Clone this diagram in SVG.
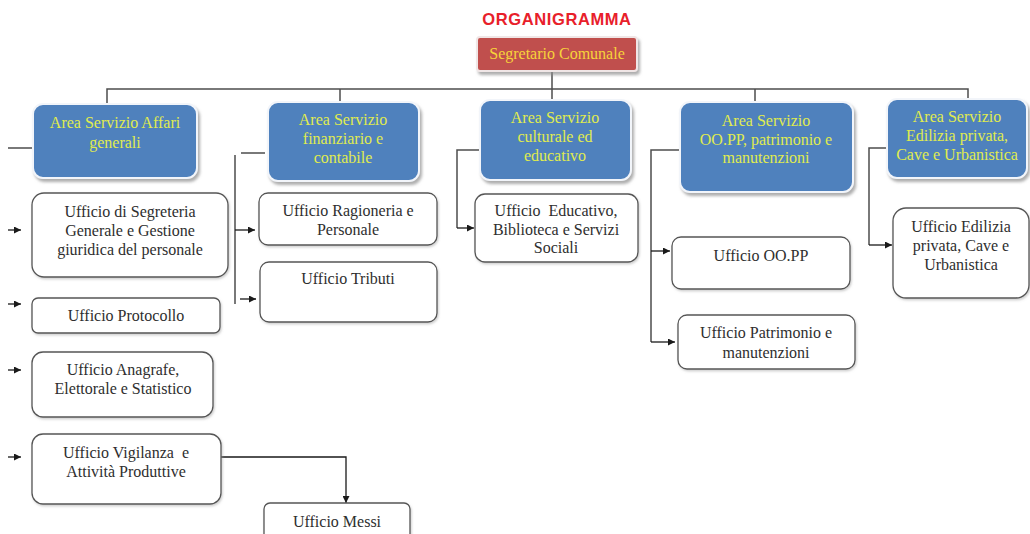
<svg xmlns="http://www.w3.org/2000/svg" width="1030" height="534" viewBox="0 0 1030 534">
<defs>
<marker id="arr" viewBox="0 0 10 10" refX="10" refY="5" markerWidth="7" markerHeight="7" markerUnits="userSpaceOnUse" orient="auto">
<path d="M0,0 L10,5 L0,10 z" fill="#1a1a1a"/>
</marker>
<filter id="sh" x="-10%" y="-10%" width="130%" height="140%">
<feDropShadow dx="2" dy="3" stdDeviation="1.5" flood-color="#8a8a8a" flood-opacity="0.7"/>
</filter>
<filter id="sh2" x="-10%" y="-10%" width="130%" height="140%">
<feDropShadow dx="1" dy="1.5" stdDeviation="1" flood-color="#9a9a9a" flood-opacity="0.5"/>
</filter>
</defs>
<style>
.area{fill:#4F81BD;stroke:#f2f5fa;stroke-width:2;filter:url(#sh)}
.areat{font-family:"Liberation Serif","Times New Roman",serif;font-size:16px;fill:#E0EC4E;text-anchor:middle}
.off{fill:#ffffff;stroke:#555;stroke-width:1.3;filter:url(#sh2)}
.offt{font-family:"Liberation Serif","Times New Roman",serif;font-size:16px;fill:#2e2e2e;text-anchor:middle}
.ln{fill:none;stroke:#4d4d4d;stroke-width:1.5}
.la{fill:none;stroke:#1a1a1a;stroke-width:1.3;marker-end:url(#arr)}
</style>
<rect width="1030" height="534" fill="#ffffff"/>
<text x="557" y="25" font-family="Liberation Sans,Arial,sans-serif" font-size="16.5" font-weight="bold" fill="#E8202A" text-anchor="middle" letter-spacing="0.6">ORGANIGRAMMA</text>

<g id="connectors">
<path class="ln" d="M552,71 V100"/>
<path class="ln" d="M107,104 V89 H968 V99"/>
<path class="ln" d="M340,89 V102"/>
<path class="ln" d="M755,89 V102"/>
<path class="ln" d="M8,148 H33"/>
<path class="la" d="M8,230 H21"/>
<path class="la" d="M8,304 H21"/>
<path class="la" d="M8,370 H21"/>
<path class="la" d="M8,457 H21"/>
<path class="ln" d="M241,153 H265"/>
<path class="ln" d="M235,155 V304"/>
<path class="la" d="M235,230 H255"/>
<path class="la" d="M240,299 H256"/>
<path class="ln" d="M480,150 H457 V228"/>
<path class="la" d="M457,228 H474"/>
<path class="ln" d="M680,150 H651 V342"/>
<path class="la" d="M651,251 H670"/>
<path class="la" d="M651,342 H675"/>
<path class="ln" d="M887,148 H869 V245"/>
<path class="la" d="M869,245 H892"/>
<path class="la" d="M221,457 H346 V503"/>
</g>

<g id="segretario">
<rect x="477" y="37" width="160" height="34" rx="3" fill="#C0504D" stroke="#f0e6e6" stroke-width="2" filter="url(#sh)"/>
<text x="557" y="59" font-family="Liberation Serif,Times New Roman,serif" font-size="16" fill="#F7D33A" text-anchor="middle">Segretario Comunale</text>
</g>

<g id="area1">
<rect class="area" x="33" y="104" width="164" height="74" rx="10"/>
<text class="areat" x="115" y="128">Area Servizio Affari</text>
<text class="areat" x="115" y="148">generali</text>
</g>
<g id="area2">
<rect class="area" x="268" y="102" width="151" height="79" rx="10"/>
<text class="areat" x="343" y="125">Area Servizio</text>
<text class="areat" x="343" y="144">finanziario e</text>
<text class="areat" x="343" y="163">contabile</text>
</g>
<g id="area3">
<rect class="area" x="480" y="100" width="151" height="80" rx="10"/>
<text class="areat" x="555" y="123">Area Servizio</text>
<text class="areat" x="555" y="142">culturale ed</text>
<text class="areat" x="555" y="161">educativo</text>
</g>
<g id="area4">
<rect class="area" x="680" y="102" width="173" height="90" rx="10"/>
<text class="areat" x="766" y="126">Area Servizio</text>
<text class="areat" x="766" y="145">OO.PP, patrimonio e</text>
<text class="areat" x="766" y="163">manutenzioni</text>
</g>
<g id="area5">
<rect class="area" x="887" y="99" width="140" height="79" rx="10"/>
<text class="areat" x="957" y="122">Area Servizio</text>
<text class="areat" x="957" y="141">Edilizia privata,</text>
<text class="areat" x="957" y="160">Cave e Urbanistica</text>
</g>

<g id="segreteria">
<rect class="off" x="32" y="193" width="196" height="84" rx="12"/>
<text class="offt" x="130" y="217">Ufficio di Segreteria</text>
<text class="offt" x="130" y="236">Generale e Gestione</text>
<text class="offt" x="130" y="255">giuridica del personale</text>
</g>
<g id="protocollo">
<rect class="off" x="32" y="298" width="188" height="35" rx="6"/>
<text class="offt" x="126" y="321">Ufficio Protocollo</text>
</g>
<g id="anagrafe">
<rect class="off" x="32" y="352" width="181" height="65" rx="11"/>
<text class="offt" x="123" y="375">Ufficio Anagrafe,</text>
<text class="offt" x="123" y="394">Elettorale e Statistico</text>
</g>
<g id="vigilanza">
<rect class="off" x="32" y="434" width="189" height="70" rx="11"/>
<text class="offt" x="126" y="458" xml:space="preserve">Ufficio Vigilanza  e</text>
<text class="offt" x="126" y="477">Attività Produttive</text>
</g>
<g id="messi">
<rect class="off" x="264" y="503" width="146" height="40" rx="6"/>
<text class="offt" x="337" y="527">Ufficio Messi</text>
</g>
<g id="ragioneria">
<rect class="off" x="259" y="193" width="178" height="52" rx="9"/>
<text class="offt" x="348" y="216">Ufficio Ragioneria e</text>
<text class="offt" x="348" y="235">Personale</text>
</g>
<g id="tributi">
<rect class="off" x="260" y="262" width="177" height="60" rx="9"/>
<text class="offt" x="348" y="284">Ufficio Tributi</text>
</g>
<g id="educativo">
<rect class="off" x="475" y="194" width="163" height="68" rx="10"/>
<text class="offt" x="556" y="216" xml:space="preserve">Ufficio  Educativo,</text>
<text class="offt" x="556" y="235">Biblioteca e Servizi</text>
<text class="offt" x="556" y="253">Sociali</text>
</g>
<g id="oopp">
<rect class="off" x="672" y="237" width="178" height="52" rx="9"/>
<text class="offt" x="761" y="261">Ufficio OO.PP</text>
</g>
<g id="patrimonio">
<rect class="off" x="678" y="315" width="177" height="54" rx="9"/>
<text class="offt" x="766" y="338">Ufficio Patrimonio e</text>
<text class="offt" x="766" y="358">manutenzioni</text>
</g>
<g id="edilizia">
<rect class="off" x="893" y="208" width="136" height="90" rx="13"/>
<text class="offt" x="961" y="232">Ufficio Edilizia</text>
<text class="offt" x="961" y="251">privata, Cave e</text>
<text class="offt" x="961" y="270">Urbanistica</text>
</g>
</svg>
